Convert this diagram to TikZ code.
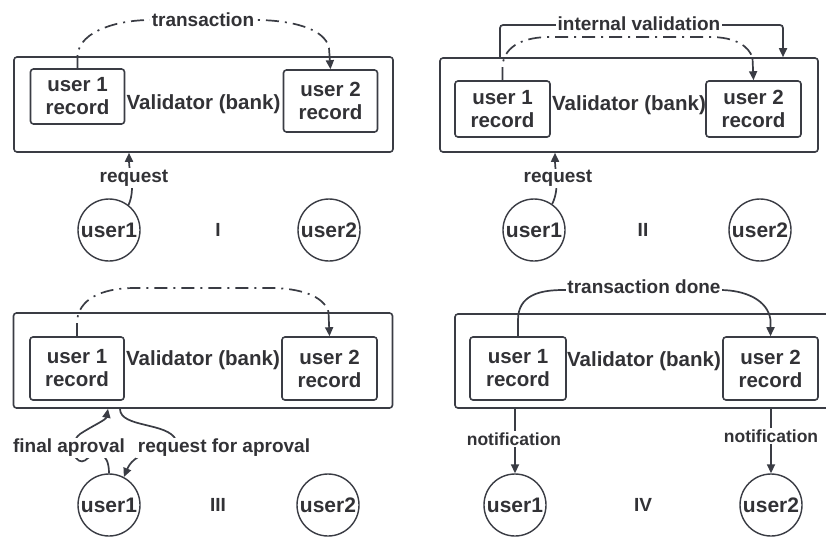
\documentclass[tikz,border=0pt]{standalone}
\usepackage{fontspec}
\setmainfont{Liberation Sans}
\usetikzlibrary{arrows.meta}
\definecolor{ink}{RGB}{58,60,68}
\definecolor{txt}{RGB}{50,50,54}
\tikzset{
  bank/.style={draw=ink, line width=1.6pt, rounded corners=3pt,
    minimum width=379pt, minimum height=95pt, inner sep=0pt,
    font=\bfseries\fontsize{20.5}{23}\selectfont, text=txt},
  rec/.style={draw=ink, line width=1.6pt, rounded corners=3pt,
    minimum width=94pt, minimum height=58pt, align=center, inner sep=0pt,
    font=\bfseries\fontsize{20.5}{23}\selectfont, text=txt},
  usr/.style={circle, draw=ink, line width=1.4pt, minimum size=62pt,
    inner sep=0pt, font=\bfseries\fontsize{21}{24}\selectfont, text=txt},
  tag/.style={fill=white, inner sep=1.5pt,
    font=\bfseries\fontsize{19}{22}\selectfont, text=txt},
  smalltag/.style={tag, font=\bfseries\fontsize{17.5}{20}\selectfont},
  numeral/.style={font=\bfseries\fontsize{19}{22}\selectfont, text=txt},
  plainline/.style={draw=ink, line width=1.7pt},
  link/.style={plainline, -{Triangle[length=9pt,width=8pt]}},
  chainline/.style={plainline, dash pattern=on 13pt off 6pt on 2pt off 6pt},
}
\begin{document}
\begin{tikzpicture}[x=1pt, y=-1pt]
\fill[white] (0,0) rectangle (826,536);
\clip (0,0) rectangle (826,536);

% ---------- I ----------
\node[bank] (v1) at (203.5,104.5) {Validator (bank)};
\node[rec, minimum height=55pt] (a1) at (77.5,96.5) {user 1\\record};
\node[rec, minimum height=62pt] (a2) at (330.5,101) {user 2\\record};
\node[usr] (p1) at (109,230) {user1};
\node[usr] (p2) at (329,230) {user2};
\node[numeral] (n1) at (218,230) {I};
\draw[chainline] (a1.north) -- (77.5,55) .. controls (80,30) and (120,20) .. (150,20)
  -- (255,20) .. controls (290,20) and (325,28) .. (329,48) coordinate (e1);
\draw[link] (e1) -- (a2.north);
\draw[link] (p1.52) .. controls (136,188) and (129,172) .. ([xshift=-74.5pt]v1.south);
\node[tag] (t1) at (203,20) {transaction};
\node[tag] (q1) at (134,178) {request};

% ---------- II ----------
\node[bank, minimum width=378pt, minimum height=94pt] (v2) at (629,105) {Validator (bank)};
\node[rec, minimum width=95pt, minimum height=56pt] (b1) at (502.5,109) {user 1\\record};
\node[rec, minimum width=95pt, minimum height=56pt] (b2) at (753.5,109) {user 2\\record};
\node[usr] (p3) at (534,230) {user1};
\node[usr] (p4) at (760,230) {user2};
\node[numeral] (n2) at (643,230) {II};
\draw[link, rounded corners=3pt] ([xshift=-129pt]v2.north) -- (500,25) -- (783,25) -- ([xshift=154pt]v2.north);
\draw[chainline] (b1.north) -- (502.5,65) .. controls (505,45) and (525,37) .. (550,37)
  -- (710,37) .. controls (735,37) and (749,46) .. (752.5,58) coordinate (e2);
\draw[link] (e2) -- (b2.north);
\draw[link] (p3.55) .. controls (560,188) and (555,172) .. ([xshift=-74pt]v2.south);
\node[tag] (t2) at (639,23.5) {internal validation};
\node[tag] (q2) at (558,178.5) {request};

% ---------- III ----------
\node[bank] (v3) at (203,360.5) {Validator (bank)};
\node[rec, minimum height=63pt] (c1) at (77,368.5) {user 1\\record};
\node[rec, minimum width=95pt, minimum height=63pt] (c2) at (329.5,368.5) {user 2\\record};
\node[usr] (r1) at (109,505) {user1};
\node[usr] (r2) at (328,505) {user2};
\node[numeral] (n3) at (218,505) {III};
\draw[chainline] (c1.north) -- (77,322) .. controls (78,300) and (100,288) .. (135,288)
  -- (270,288) .. controls (300,288) and (324,296) .. (328.5,312) coordinate (e3);
\draw[link] (e3) -- (c2.north);
\draw[link] (r1.north) .. controls (109,450) and (95,452) .. (88,458)
  .. controls (84,462) and (80,463) .. (76,458)
  .. controls (72,452) and (72,440) .. (80,434)
  .. controls (92,426) and (106,420) .. ([xshift=-95pt]v3.south);
\draw[link] ([xshift=-83pt]v3.south) .. controls (120,428) and (168,422) .. (176,440)
  .. controls (170,452) and (136,448) .. (r1.62);
\node[tag] (f3) at (69,448) {final aproval};
\node[tag] (g3) at (224,448) {request for aproval};

% ---------- IV ----------
\node[bank, minimum width=378pt, minimum height=94pt] (v4) at (644,361) {Validator (bank)};
\node[rec, minimum width=96pt, minimum height=63pt] (d1) at (518,368.5) {user 1\\record};
\node[rec, minimum width=95pt, minimum height=63pt] (d2) at (770.5,368.5) {user 2\\record};
\node[usr] (s1) at (515,505) {user1};
\node[usr] (s2) at (771,505) {user2};
\node[numeral] (n4) at (643,505) {IV};
\draw[link] (d1.north) -- (518,320) .. controls (518,295) and (540,290) .. (563,290)
  -- (720,290) .. controls (745,290) and (768,300) .. (770.5,320) -- (d2.north);
\draw[link] ([xshift=-129pt]v4.south) -- (s1.north);
\draw[link] ([xshift=127pt]v4.south) -- (s2.north);
\node[tag] (t4) at (644,287) {transaction done};
\node[smalltag] (m1) at (514,439) {notification};
\node[smalltag] (m2) at (771,436) {notification};
\end{tikzpicture}
\end{document}
